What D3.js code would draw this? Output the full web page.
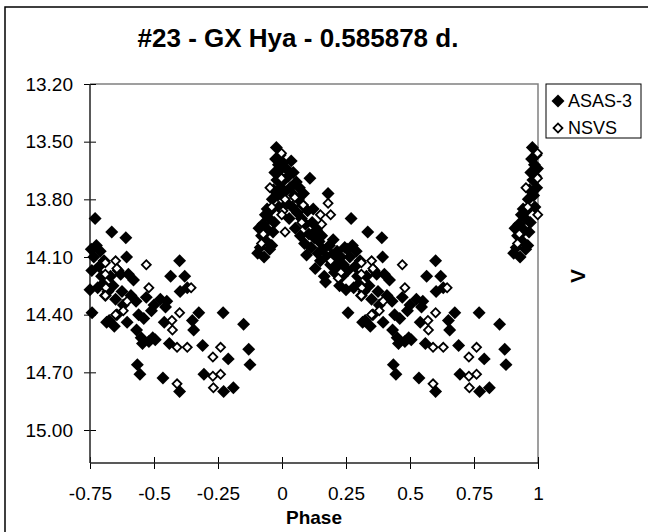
<!DOCTYPE html>
<html>
<head>
<meta charset="utf-8">
<script src="https://cdn.jsdelivr.net/npm/d3@7"></script>
<style>
  body { margin: 0; background: #fff; }
  text { font-family: Arial, "Liberation Sans", sans-serif; }
</style>
</head>
<body>
<div id="main"></div>
<script>
/* Size */
const width = 648, height = 532;

/* Data : base cycle, [phase, V] */
const asas = [
  [0.004,13.61],[0.008,13.70],[0.012,13.76],[0.016,13.64],[0.02,13.82],[0.025,13.68],[0.028,13.90],[0.032,13.74],
  [0.036,13.60],[0.04,13.84],[0.044,13.66],[0.048,13.78],[0.052,13.95],[0.056,13.71],[0.06,13.87],[0.064,13.80],
  [0.068,13.74],[0.072,13.99],[0.076,13.90],[0.08,13.83],[0.084,13.77],[0.088,14.03],[0.092,13.93],[0.096,14.09],
  [0.10,13.86],[0.105,13.98],[0.109,13.69],[0.114,14.05],[0.118,13.92],[0.122,13.85],[0.126,14.00],[0.13,14.16],
  [0.135,13.96],[0.14,14.08],[0.145,14.02],[0.15,14.12],[0.155,13.99],[0.16,14.06],[0.165,14.20],[0.17,14.23],
  [0.175,14.10],[0.18,13.77],[0.185,14.04],[0.19,14.14],[0.195,14.09],[0.20,14.01],[0.205,14.18],[0.21,14.12],
  [0.215,14.07],[0.22,14.16],[0.225,14.25],[0.23,14.10],[0.235,14.20],[0.24,14.14],[0.245,14.05],
  [0.25,14.27],[0.255,14.06],[0.257,14.17],[0.258,14.39],[0.265,14.10],[0.27,13.90],[0.275,14.04],[0.28,14.26],
  [0.285,14.15],[0.29,14.07],[0.295,14.20],[0.30,14.24],[0.305,14.12],[0.31,14.30],[0.315,14.44],[0.32,14.28],
  [0.325,14.43],[0.33,14.20],[0.335,13.97],[0.34,14.25],[0.345,14.46],[0.35,14.32],[0.355,14.40],[0.36,14.17],
  [0.37,14.19],[0.375,14.28],[0.38,14.35],[0.39,14.00],[0.393,14.10],[0.395,14.44],[0.40,14.19],[0.41,14.30],
  [0.42,14.22],[0.43,14.33],[0.432,14.48],[0.435,14.66],[0.44,14.40],[0.445,14.71],[0.45,14.52],[0.455,14.55],
  [0.46,14.42],[0.47,14.31],[0.48,14.54],[0.49,14.38],[0.495,14.52],[0.50,14.35],[0.505,14.53],[0.525,14.32],
  [0.535,14.73],[0.54,14.44],[0.545,14.36],[0.55,14.33],[0.56,14.55],[0.565,14.20],[0.60,14.12],[0.602,14.28],
  [0.60,14.80],[0.62,14.20],[0.63,14.26],[0.65,14.43],[0.655,14.48],[0.675,14.39],[0.69,14.56],[0.695,14.71],
  [0.77,14.39],[0.772,14.80],[0.79,14.63],[0.81,14.78],[0.85,14.45],[0.87,14.58],[0.875,14.66],
  [0.905,14.08],[0.91,13.95],[0.915,14.05],[0.92,13.99],[0.925,13.93],[0.93,14.10],[0.932,13.98],[0.935,13.88],
  [0.94,14.02],[0.942,13.85],[0.945,13.96],[0.95,13.90],[0.952,14.06],[0.955,13.86],[0.96,14.04],[0.962,13.80],
  [0.965,13.97],[0.967,13.75],[0.97,13.92],[0.972,13.66],[0.975,13.59],[0.978,13.53],[0.98,13.70],[0.983,13.78],
  [0.986,13.62],[0.988,13.84],[0.99,13.68],[0.993,13.57],[0.995,13.74],[0.998,13.64]
];
const nsvs = [
  [0.012,13.80],[0.05,13.79],[0.083,13.83],[0.004,13.86],[0.077,13.92],[0.012,13.97],[0.155,13.93],[0.15,13.88],
  [0.19,13.88],[0.18,13.82],[0.19,14.12],[0.23,14.18],[0.22,14.21],
  [0.31,14.13],[0.31,14.19],[0.312,14.26],[0.31,14.30],[0.35,14.12],[0.355,14.16],[0.35,14.40],[0.38,14.38],
  [0.395,14.33],[0.47,14.14],[0.48,14.26],[0.57,14.43],[0.572,14.48],[0.59,14.57],[0.59,14.76],[0.60,14.39],
  [0.63,14.57],[0.645,14.26],[0.73,14.62],[0.73,14.72],[0.732,14.78],[0.76,14.57],[0.76,14.71],
  [0.927,13.98],[0.92,14.03],[0.953,13.74],[0.96,13.84],[0.998,13.56],[0.998,13.69],[0.999,13.88]
];
const xTicks = [-0.75, -0.5, -0.25, 0, 0.25, 0.5, 0.75, 1];
const yTicks = [13.2, 13.5, 13.8, 14.1, 14.4, 14.7, 15.0];
const seriesNames = ["ASAS-3", "NSVS"];
const title = "#23 - GX Hya - 0.585878 d.";

/* Phase folding : show every point at phase and phase-1 inside the axis range */
const fold = pts => pts.flatMap(([p, v]) =>
  [p, p - 1].filter(q => q >= -0.751 && q <= 1.001).map(q => ({p: q, v: v})));

/* Plot box */
const pLeft = 90, pRight = 538, pTop = 84, pBottom = 463;
const x = d3.scaleLinear().domain([-0.75, 1]).range([pLeft, pRight]);
const y = d3.scaleLinear().domain([13.2, 15.0]).range([pTop, 430]);

const svg = d3.select("#main").append("svg").attr("width", width).attr("height", height);

// outer frame
svg.append("rect").attr("x", 5).attr("y", 7).attr("width", 720).attr("height", 600)
  .attr("fill", "#fff").attr("stroke", "#000").attr("stroke-width", 1.5);

svg.append("text").attr("x", 298).attr("y", 47).attr("text-anchor", "middle")
  .style("font-size", "26px").style("font-weight", "bold").text(title);

// plot area border (gray top / right)
svg.append("path").attr("d", `M${pLeft},${pTop}H${pRight}V${pBottom}`)
  .attr("fill", "none").attr("stroke", "#808080").attr("stroke-width", 1.5);

/* Axes */
const yAxis = svg.append("g").attr("transform", `translate(${pLeft},0)`)
  .call(d3.axisLeft(y).tickValues(yTicks).tickFormat(d3.format(".2f")).tickSize(6).tickPadding(11));
const xAxis = svg.append("g").attr("transform", `translate(0,${pBottom})`)
  .call(d3.axisBottom(x).tickValues(xTicks).tickFormat(d => String(d)).tickSize(6).tickPadding(18));

[yAxis, xAxis].forEach(a => {
  a.select(".domain").remove();
  a.selectAll("text").style("font-size", "19px").attr("fill", "#000");
});
yAxis.selectAll(".tick line").attr("x1", -6).attr("x2", 6).attr("stroke", "#000");
xAxis.selectAll(".tick line").attr("y1", -6).attr("y2", 6).attr("stroke", "#000");
svg.append("line").attr("x1", pLeft).attr("x2", pLeft).attr("y1", pTop).attr("y2", pBottom)
  .attr("stroke", "#222").attr("stroke-width", 1.5);
svg.append("line").attr("x1", pLeft).attr("x2", pRight).attr("y1", pBottom).attr("y2", pBottom)
  .attr("stroke", "#222").attr("stroke-width", 1.5);

svg.append("text").attr("x", (pLeft + pRight) / 2).attr("y", 524).attr("text-anchor", "middle")
  .style("font-size", "19px").style("font-weight", "bold").text("Phase");
svg.append("text").attr("transform", "translate(585,276) rotate(-90)").attr("text-anchor", "middle")
  .style("font-size", "21px").style("font-weight", "bold").text("V");

/* Points */
const filled = d3.symbol().type(d3.symbolSquare).size(84);
const hollow = d3.symbol().type(d3.symbolSquare).size(40);

svg.append("g").selectAll("path").data(fold(asas)).enter().append("path")
  .attr("d", filled)
  .attr("transform", d => `translate(${x(d.p)},${y(d.v)}) rotate(45)`)
  .attr("fill", "#000");

svg.append("g").selectAll("path").data(fold(nsvs)).enter().append("path")
  .attr("d", hollow)
  .attr("transform", d => `translate(${x(d.p)},${y(d.v)}) rotate(45)`)
  .attr("fill", "#fff").attr("stroke", "#000").attr("stroke-width", 1.8);

/* Legend */
const lg = svg.append("g").attr("transform", "translate(546,84)");
lg.append("rect").attr("width", 95).attr("height", 54).attr("fill", "#fff").attr("stroke", "#000");
seriesNames.forEach((name, i) => {
  const row = lg.append("g").attr("transform", `translate(12,${17 + i * 27})`);
  row.append("path").attr("d", i === 0 ? filled : hollow).attr("transform", "rotate(45)")
    .attr("fill", i === 0 ? "#000" : "#fff").attr("stroke", i === 0 ? null : "#000").attr("stroke-width", 1.8);
  row.append("text").attr("x", 10).attr("dy", "0.36em").style("font-size", "18px").text(name);
});
</script>
</body>
</html>
